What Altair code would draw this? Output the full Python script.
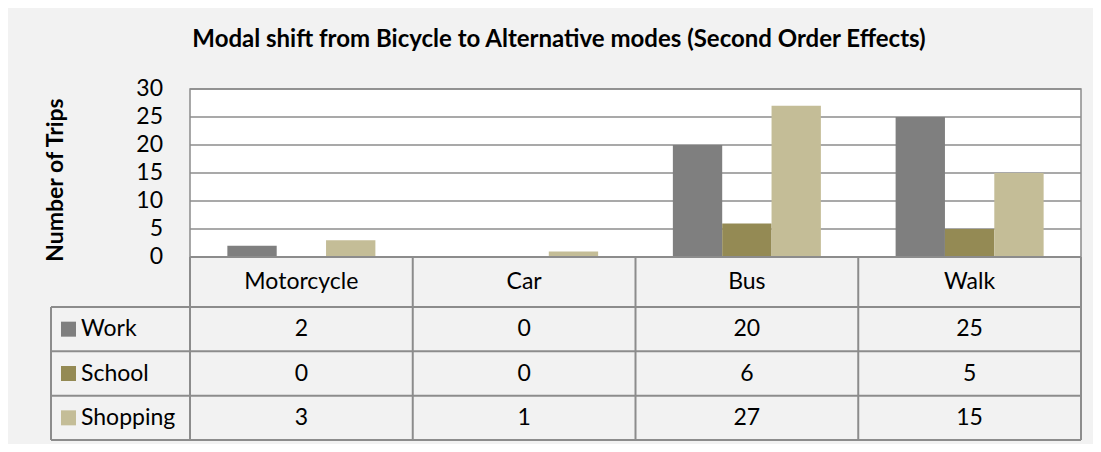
import altair as alt
import pandas as pd

# ---------------- data ----------------
categories = ["Motorcycle", "Car", "Bus", "Walk"]
series = ["Work", "School", "Shopping"]
work = [2, 0, 20, 25]
school = [0, 0, 6, 5]
shopping = [3, 1, 27, 15]
y_ticks = [0, 5, 10, 15, 20, 25, 30]
colors = ["#7F7F7F", "#948A54", "#C4BD97"]
title_text = "Modal shift from Bicycle to Alternative modes (Second Order Effects)"
y_title = "Number of Trips"

values = [work, school, shopping]

# ---------------- layout constants ----------------
FONT = "Lato"
FS = 23
W, H = 1030, 351           # plot area (legend column + bars + table)
PAD_L, PAD_T, PAD_R, PAD_B = 43, 81, 12, 4
CAT_PX = 222.75            # px per category column
LEG = 139 / CAT_PX         # legend column width in x units
PX_PER_Y = 5.6             # px per y unit
Y_BOTTOM = -(H / PX_PER_Y - 30)
HEADER = 50 / PX_PER_Y
ROW = (H - 168 - 50) / 3 / PX_PER_Y
BW = 0.2215
GPAD = (1 - 3 * BW) / 2
LINE = "#8C8C8C"

xs = alt.Scale(domain=[-LEG, len(categories)], nice=False, zero=False)
ys = alt.Scale(domain=[Y_BOTTOM, 30], nice=False, zero=False)
X = lambda f: alt.X(f, scale=xs, axis=None)
Y = lambda f: alt.Y(f, scale=ys, axis=None)

# ---------------- tables ----------------
bars = []
for i, c in enumerate(categories):
    for j, s in enumerate(series):
        x0 = i + GPAD + j * BW
        bars.append({"cat": c, "series": s, "x": x0, "x2": x0 + BW, "y": 0, "y2": values[j][i]})
bars = pd.DataFrame(bars)

row_centers = [-HEADER - ROW * (k + 0.5) for k in range(len(series))]
cells = []
for j, s in enumerate(series):
    for i, c in enumerate(categories):
        cells.append({"x": i + 0.5, "y": row_centers[j], "label": str(values[j][i])})
for i, c in enumerate(categories):
    cells.append({"x": i + 0.5, "y": -HEADER / 2, "label": c})
cells = pd.DataFrame(cells)

legend = pd.DataFrame({
    "series": series,
    "y": row_centers,
    "xs": [-LEG + 17.5 / CAT_PX] * 3,
    "xt": [-LEG + 30 / CAT_PX] * 3,
})

hlines = [{"x": 0, "x2": len(categories), "y": 0}]
for k in range(len(series) + 1):
    hlines.append({"x": -LEG, "x2": len(categories), "y": -HEADER - ROW * k})
hlines = pd.DataFrame(hlines)

vlines = [{"x": -LEG, "y": -HEADER, "y2": Y_BOTTOM}]
for i in range(len(categories) + 1):
    vlines.append({"x": i, "y": 0, "y2": Y_BOTTOM})
vlines = pd.DataFrame(vlines)

grid = pd.DataFrame({"y": y_ticks, "x": 0, "x2": len(categories),
                     "xl": -27 / CAT_PX, "label": [str(v) for v in y_ticks]})
plot_bg = pd.DataFrame({"x": [0], "x2": [len(categories)], "y": [0], "y2": [30]})
ytitle_df = pd.DataFrame({"x": [-LEG + 5 / CAT_PX], "y": [15 - 7 / PX_PER_Y], "t": [y_title]})
title_df = pd.DataFrame({"x": [-LEG + 508 / CAT_PX], "y": [30 + 42.5 / PX_PER_Y], "t": [title_text]})

# ---------------- layers ----------------
bg = alt.Chart(plot_bg).mark_rect(fill="white", stroke=LINE, strokeWidth=1.5).encode(
    x=X("x:Q"), x2="x2", y=Y("y:Q"), y2="y2",
)

gridlines = alt.Chart(grid).mark_rule(color=LINE, strokeWidth=1.5).encode(
    x=X("x:Q"), x2="x2", y=Y("y:Q"),
)
ticklabels = alt.Chart(grid).mark_text(font=FONT, fontSize=FS, color="black",
                                       align="right", baseline="middle").encode(
    x=X("xl:Q"), y=Y("y:Q"), text="label:N",
)
ytitle = alt.Chart(ytitle_df).mark_text(font=FONT, fontSize=23, fontWeight="bold", color="black",
                                        angle=270, align="center", baseline="middle").encode(
    x=X("x:Q"), y=Y("y:Q"), text="t:N",
)
title = alt.Chart(title_df).mark_text(font=FONT, fontSize=24, fontWeight="bold", color="black",
                                      align="center", baseline="alphabetic").encode(
    x=X("x:Q"), y=Y("y:Q"), text="t:N",
)

barl = alt.Chart(bars).mark_rect().encode(
    x=X("x:Q"), x2="x2", y=Y("y:Q"), y2="y2",
    color=alt.Color("series:N", scale=alt.Scale(domain=series, range=colors), legend=None),
)

hl = alt.Chart(hlines).mark_rule(color=LINE, strokeWidth=2).encode(
    x=X("x:Q"), x2="x2", y=Y("y:Q"),
)
vl = alt.Chart(vlines).mark_rule(color=LINE, strokeWidth=2).encode(
    x=X("x:Q"), y=Y("y:Q"), y2="y2",
)

txt = alt.Chart(cells).mark_text(font=FONT, fontSize=FS, color="black", baseline="middle").encode(
    x=X("x:Q"), y=Y("y:Q"), text="label:N",
)

leg_sq = alt.Chart(legend).mark_square(size=225, opacity=1).encode(
    x=X("xs:Q"), y=Y("y:Q"),
    color=alt.Color("series:N", scale=alt.Scale(domain=series, range=colors), legend=None),
)
leg_txt = alt.Chart(legend).mark_text(font=FONT, fontSize=FS, color="black", align="left", baseline="middle").encode(
    x=X("xt:Q"), y=Y("y:Q"), text="series:N",
)

chart = alt.layer(bg, gridlines, ticklabels, ytitle, title, barl, hl, vl, txt, leg_sq, leg_txt).properties(
    width=W, height=H,
    autosize=alt.AutoSizeParams(type="none"),
    padding={"left": PAD_L, "top": PAD_T, "right": PAD_R, "bottom": PAD_B},
    background="#F2F2F2",
).configure_view(stroke=None)

chart.save("out.html", embed_options={"renderer": "svg", "actions": False})
